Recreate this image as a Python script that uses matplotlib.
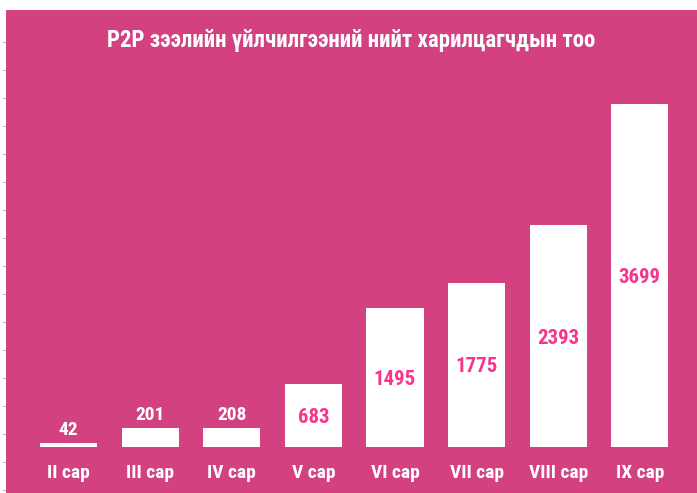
import matplotlib
matplotlib.use("Agg")
import matplotlib.pyplot as plt
from matplotlib import font_manager as fm

categories = ["II сар", "III сар", "IV сар", "V сар", "VI сар", "VII сар", "VIII сар", "IX сар"]
values = [42, 201, 208, 683, 1495, 1775, 2393, 3699]
title = "P2P зээлийн үйлчилгээний нийт харилцагчдын тоо"

BG = "#D34180"
PINK = "#F7358F"

names = {f.name for f in fm.fontManager.ttflist}
cands = ["Roboto Condensed", "Liberation Sans Narrow", "Archivo Narrow", "DejaVu Sans"]
FAM = [c for c in cands if c in names][:1] + ["DejaVu Sans"]
plt.rcParams['font.family'] = FAM
MED = ["Roboto Condensed Medium"] + FAM if "Roboto Condensed Medium" in names else FAM
MEDW = "normal" if "Roboto Condensed Medium" in names else "semibold"

fig = plt.figure(figsize=(6.97, 4.93), dpi=100, facecolor="white")
ax = fig.add_axes([6/697, 0, 691/697, 483/493])
ax.set_facecolor(BG)
for s in ax.spines.values():
    s.set_visible(False)
ax.set_xticks([]); ax.set_yticks([])

x = list(range(len(values)))
ax.bar(x, values, width=0.70, color="white", edgecolor="none")
ax.set_xlim(-0.766, 7.70)
ax.set_ylim(-496, 4715)

for xi, v, c in zip(x, values, categories):
    if v < 400:
        ax.text(xi, v + 86, str(v), ha="center", va="baseline", color="white",
                fontsize=14, family=MED, fontweight=MEDW)
    else:
        ax.text(xi, v / 2, str(v), ha="center", va="center_baseline", color=PINK,
                fontsize=15, family=MED, fontweight=MEDW)
    ax.text(xi, -334, c, ha="center", va="baseline",
            color="white", fontsize=14, fontweight="bold")

ax.text(0.5, 1 - 30/483, title, transform=ax.transAxes, ha="center", va="center",
        color="white", fontsize=16.5, fontweight="bold")

# left decorative tick strip
tax = fig.add_axes([0, 0, 6/697, 1])
tax.set_xlim(0, 1); tax.set_ylim(0, 493)
tax.axis("off")
for yy in range(42, 493, 28):
    tax.plot([0.5, 1], [493 - yy, 493 - yy], color="#bbbbbb", lw=0.8)

fig.savefig("out.png", dpi=100, facecolor="white")
